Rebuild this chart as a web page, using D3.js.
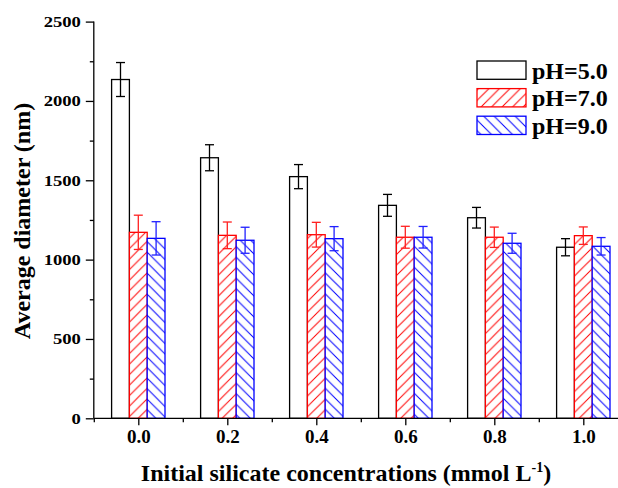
<!DOCTYPE html>
<html>
<head>
<meta charset="utf-8">
<script src="https://cdn.jsdelivr.net/npm/d3@7"></script>
<style>
  html, body { margin: 0; padding: 0; background: #fff; }
  svg { display: block; }
  text { font-family: "Liberation Serif", "Times New Roman", serif; font-weight: bold; fill: #000; }
</style>
</head>
<body>
<svg id="chart" width="618" height="488"></svg>
<script>
// ---- data ----
const categories = [0.0, 0.2, 0.4, 0.6, 0.8, 1.0];
const xTickLabels = ["0.0", "0.2", "0.4", "0.6", "0.8", "1.0"];
const seriesNames = ["pH=5.0", "pH=7.0", "pH=9.0"];
const ph5 = [2135, 1642, 1523, 1342, 1264, 1078];
const ph5Err = [107, 82, 76, 69, 65, 54];
const ph7 = [1172, 1153, 1157, 1141, 1141, 1151];
const ph7Err = [108, 84, 78, 69, 64, 55];
const ph9 = [1134, 1122, 1132, 1141, 1103, 1084];
const ph9Err = [105, 82, 76, 68, 63, 55];
const yTicks = [0, 500, 1000, 1500, 2000, 2500];
const yMinorTicks = [250, 750, 1250, 1750, 2250];
const xMinorTicks = [-0.1, 0.1, 0.3, 0.5, 0.7, 0.9, 1.1];

// ---- setup ----
const svg = d3.select("#chart");
const x = d3.scaleLinear().domain([-0.1, 1.1]).range([93.8, 627.8]);
const y = d3.scaleLinear().domain([0, 2500]).range([418.3, 21.6]);
const barW = 0.04;

const series = [
  { name: seriesNames[0], vals: ph5, errs: ph5Err, stroke: "#000", fill: "#fff", err: "#000" },
  { name: seriesNames[1], vals: ph7, errs: ph7Err, stroke: "#ff0000", fill: "url(#hatchRed)", err: "#ff2020" },
  { name: seriesNames[2], vals: ph9, errs: ph9Err, stroke: "#0000ff", fill: "url(#hatchBlue)", err: "#2020ff" }
];

const defs = svg.append("defs");
const pr = defs.append("pattern").attr("id", "hatchRed").attr("patternUnits", "userSpaceOnUse")
  .attr("width", 10.5).attr("height", 10.5);
pr.append("rect").attr("width", 10.5).attr("height", 10.5).attr("fill", "#fff");
pr.append("path").attr("d", "M0,10.5 L10.5,0 M-2,2 L2,-2 M8.5,12.5 L12.5,8.5")
  .attr("stroke", "#ff0000").attr("stroke-width", 1);
const pb = defs.append("pattern").attr("id", "hatchBlue").attr("patternUnits", "userSpaceOnUse")
  .attr("width", 10.5).attr("height", 10.5);
pb.append("rect").attr("width", 10.5).attr("height", 10.5).attr("fill", "#fff");
pb.append("path").attr("d", "M0,0 L10.5,10.5 M-2,8.5 L2,12.5 M8.5,-2 L12.5,2")
  .attr("stroke", "#0000ff").attr("stroke-width", 1);

svg.append("rect").attr("width", 618).attr("height", 488).attr("fill", "#fff");

// ---- bars ----
series.forEach((s, si) => {
  const g = svg.append("g");
  categories.forEach((c, ci) => {
    const x0 = x(c + (si - 1) * barW - barW / 2);
    const x1 = x(c + (si - 1) * barW + barW / 2);
    g.append("rect")
      .attr("x", x0).attr("y", y(s.vals[ci]))
      .attr("width", x1 - x0).attr("height", y(0) - y(s.vals[ci]))
      .attr("fill", s.fill).attr("stroke", s.stroke).attr("stroke-width", 1.3);
  });
});

// ---- error bars ----
series.forEach((s, si) => {
  const g = svg.append("g").attr("stroke", s.err).attr("stroke-width", 1.3).attr("fill", "none");
  categories.forEach((c, ci) => {
    const cx = x(c + (si - 1) * barW);
    const yt = y(s.vals[ci] + s.errs[ci]);
    const yb = y(s.vals[ci] - s.errs[ci]);
    g.append("line").attr("x1", cx).attr("x2", cx).attr("y1", yt).attr("y2", yb);
    g.append("line").attr("x1", cx - 4.5).attr("x2", cx + 4.5).attr("y1", yt).attr("y2", yt);
    g.append("line").attr("x1", cx - 4.5).attr("x2", cx + 4.5).attr("y1", yb).attr("y2", yb);
  });
});

// ---- axes ----
const xAxisG = svg.append("g").attr("transform", `translate(0,${y(0)})`)
  .call(d3.axisBottom(x).tickValues(categories).tickFormat((d, i) => xTickLabels[i]).tickSize(7).tickPadding(4));
const xMinorG = svg.append("g").attr("transform", `translate(0,${y(0)})`)
  .call(d3.axisBottom(x).tickValues(xMinorTicks).tickFormat("").tickSize(4));
xMinorG.select(".domain").remove();
xAxisG.select(".domain").attr("d", `M${x(-0.1)},0H${x(1.1)}`);
xAxisG.selectAll("text").style("font-size", "19px").attr("font-family", null);

const yAxisG = svg.append("g").attr("transform", `translate(${x(-0.1)},0)`)
  .call(d3.axisLeft(y).tickValues(yTicks).tickFormat(d3.format("d")).tickSize(8).tickPadding(5));
const yMinorG = svg.append("g").attr("transform", `translate(${x(-0.1)},0)`)
  .call(d3.axisLeft(y).tickValues(yMinorTicks).tickFormat("").tickSize(4));
yMinorG.select(".domain").remove();
yAxisG.select(".domain").attr("d", `M0,${y(2500)}V${y(0)}`);
yAxisG.selectAll("text").style("font-size", "15.5px").attr("font-family", null);
// widen y labels slightly (original labels are horizontally stretched)
yAxisG.selectAll(".tick text").each(function () {
  const t = d3.select(this);
  const xx = +t.attr("x");
  t.attr("x", xx / 1.2).attr("transform", "scale(1.2,1)");
});
svg.selectAll(".domain, .tick line").attr("stroke", "#000").attr("stroke-width", 1.3);
svg.selectAll(".tick text").attr("fill", "#000");

// ---- axis titles ----
const xt = svg.append("text").attr("x", 346).attr("y", 481).attr("text-anchor", "middle")
  .style("font-size", "24px");
xt.append("tspan").text("Initial silicate concentrations (mmol L");
xt.append("tspan").text("-1").attr("dy", -9).style("font-size", "14px");
xt.append("tspan").text(")").attr("dy", 9);

svg.append("text").attr("transform", "translate(30,221) rotate(-90)").attr("text-anchor", "middle")
  .style("font-size", "24px").text("Average diameter (nm)");

// ---- legend ----
const leg = svg.append("g");
series.forEach((s, i) => {
  const yy = 61 + i * 27.6;
  leg.append("rect").attr("x", 477).attr("y", yy).attr("width", 49).attr("height", 18.3)
    .attr("fill", s.fill).attr("stroke", s.stroke).attr("stroke-width", 1.3);
  leg.append("text").attr("x", 532).attr("y", yy + 17.5).style("font-size", "24px").text(s.name);
});
</script>
</body>
</html>
